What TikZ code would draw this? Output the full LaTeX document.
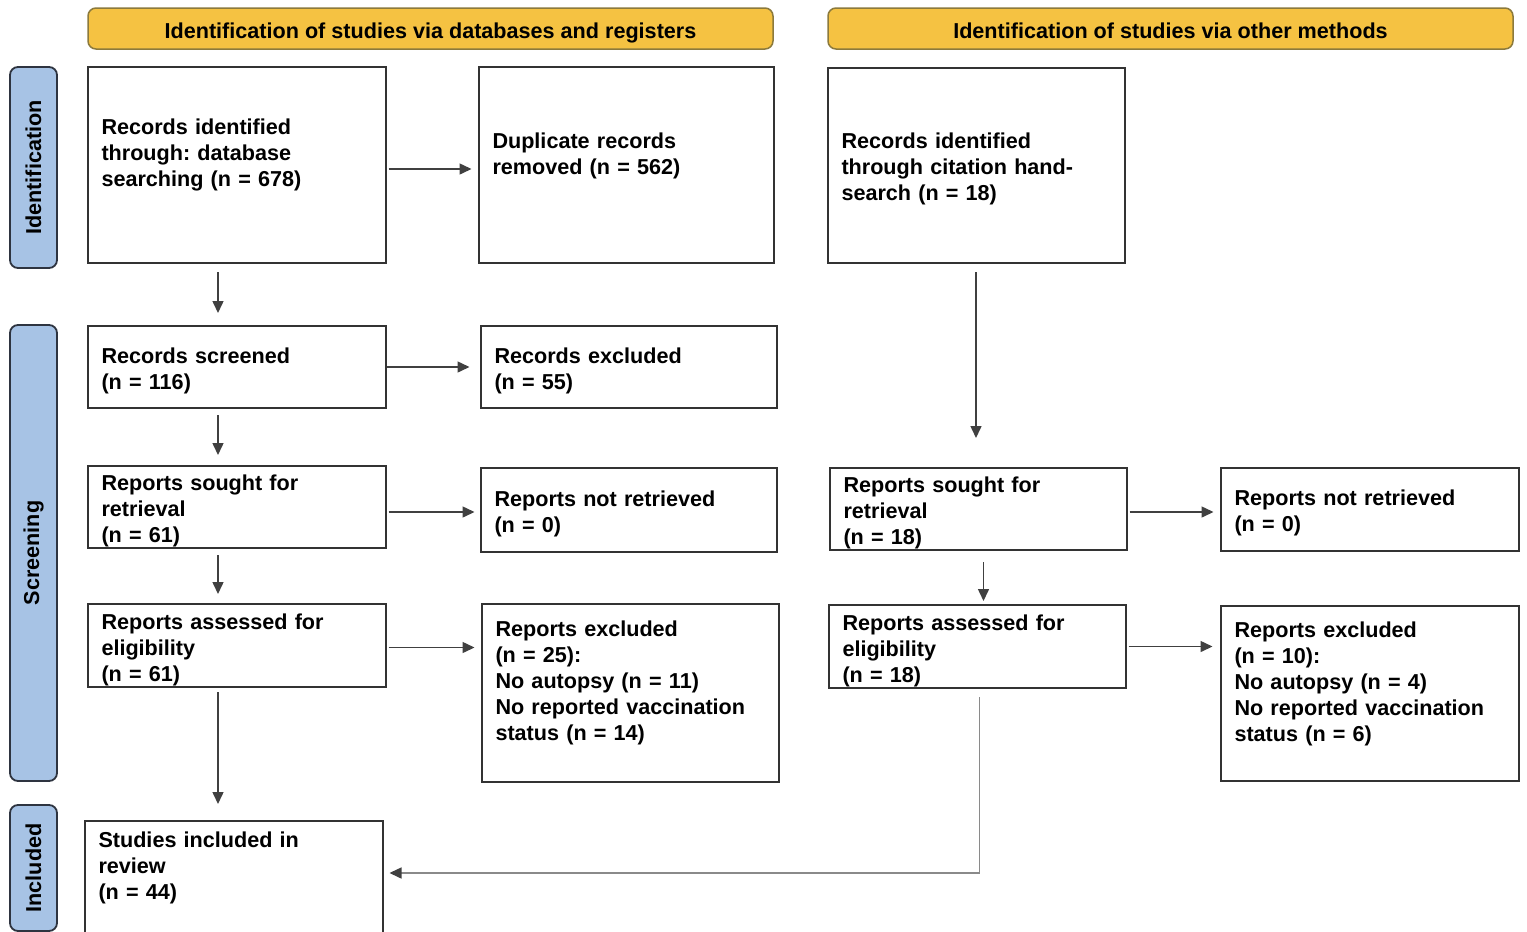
\documentclass[tikz,border=0pt]{standalone}
\usepackage{fontspec}
\setmainfont{Liberation Sans}
\usetikzlibrary{arrows.meta}
\frenchspacing

\definecolor{headfill}{HTML}{F5C242}
\definecolor{headline}{HTML}{8C7A3C}
\definecolor{sidefill}{HTML}{A7C3E5}
\definecolor{sideline}{HTML}{2E3440}
\definecolor{boxline}{HTML}{333333}
\definecolor{linkline}{HTML}{404040}
\definecolor{backline}{HTML}{8A8A8A}

\tikzset{
  head/.style={draw=headline, fill=headfill, line width=0.75pt, rounded corners=4pt,
    minimum width=342.5pt, minimum height=20.5pt, inner sep=0pt,
    text height=10pt, text depth=0.5pt},
  side/.style={draw=sideline, fill=sidefill, line width=0.9pt, rounded corners=4pt,
    rotate=90, minimum height=23.5pt, inner sep=0pt},
  % #1 width, #2 height, #3 first baseline below the top (all in px)
  box/.style n args={3}{draw=boxline, line width=1pt, anchor=north west, align=left,
    inner xsep=7pt, inner ysep=0pt, text width=#1*0.5pt-14pt,
    minimum width=#1*0.5pt, minimum height=#2*0.5pt,
    text height=9pt, text depth=#2*0.5pt+9pt-#3*1pt},
  link/.style={->, draw=linkline, line width=0.75pt, shorten <=1pt, shorten >=3pt},
}

\begin{document}
\begin{tikzpicture}[x=0.5pt,y=-0.5pt,>={Triangle[length=6pt,width=5.5pt]},
    font=\fontsize{10.8}{13}\selectfont\bfseries]
  \useasboundingbox (0,0) rectangle (1527,932);
  \clip (0,0) rectangle (1527,932);

  % headers and phases
  \node[head] (hdb) at (430.5,28.5) {Identification of studies via databases and registers};
  \node[head] (hot) at (1170.5,28.5) {Identification of studies via other methods};
  \node[side, minimum width=100.5pt] (pid) at (33.5,167.5) {Identification};
  \node[side, minimum width=228pt] (psc) at (33.5,553) {Screening};
  \node[side, minimum width=63pt] (pin) at (33.5,868) {Included};

  % databases and registers
  \node[box={298}{196}{67}] (a) at (86.5,66) {Records identified\\through: database\\searching (n = 678)};
  \node[box={295}{196}{81}] (b) at (477.5,66) {Duplicate records\\removed (n = 562)};
  \node[box={298}{82}{37}] (d) at (86.5,325) {Records screened\\(n = 116)};
  \node[box={296}{82}{37}] (e) at (479.5,325) {Records excluded\\(n = 55)};
  \node[box={298}{82}{24}] (f) at (86.5,465) {Reports sought for\\retrieval\\(n = 61)};
  \node[box={296}{84}{38}] (g) at (479.5,467) {Reports not retrieved\\(n = 0)};
  \node[box={298}{83}{25}] (h) at (86.5,603) {Reports assessed for\\eligibility\\(n = 61)};
  \node[box={297}{178}{32}] (i) at (480.5,603) {Reports excluded\\(n = 25):\\No autopsy (n = 11)\\No reported vaccination\\status (n = 14)};
  \node[box={298}{140}{26}] (j) at (83.5,820) {Studies included in\\review\\(n = 44)};

  % other methods
  \node[box={297}{195}{80}] (c) at (826.5,67) {Records identified\\through citation hand-\\search (n = 18)};
  \node[box={297}{82}{24}] (k) at (828.5,467) {Reports sought for\\retrieval\\(n = 18)};
  \node[box={298}{83}{37}] (l) at (1219.5,467) {Reports not retrieved\\(n = 0)};
  \node[box={297}{83}{25}] (m) at (827.5,604) {Reports assessed for\\eligibility\\(n = 18)};
  \node[box={298}{175}{31}] (n) at (1219.5,605) {Reports excluded\\(n = 10):\\No autopsy (n = 4)\\No reported vaccination\\status (n = 6)};

  % side arrows
  \draw[link] ([yshift=-2pt]a.east) -- ([yshift=-2pt]a.east -| b.west);
  \draw[link, shorten <=0pt, shorten >=5pt] (d.east) -- (d.east -| e.west);
  \draw[link, shorten >=2.5pt] ([yshift=-2.5pt]f.east) -- ([yshift=-2.5pt]f.east -| g.west);
  \draw[link] ([yshift=-1pt]h.east) -- ([yshift=-1pt]h.east -| i.west);
  \draw[link] ([yshift=-1.5pt]k.east) -- ([yshift=-1.5pt]k.east -| l.west);
  \draw[link, shorten >=3.5pt] (m.east) -- (m.east -| n.west);

  % down arrows
  \draw[link, shorten <=4pt, shorten >=6pt] ([xshift=65.75pt]a.south west) -- ([xshift=65.75pt]d.north west);
  \draw[link, shorten <=3pt, shorten >=5pt] ([xshift=65.75pt]d.south west) -- ([xshift=65.75pt]f.north west);
  \draw[link, shorten <=3pt, shorten >=4.5pt] ([xshift=65.75pt]f.south west) -- ([xshift=65.75pt]h.north west);
  \draw[link, shorten <=2pt, shorten >=8pt] ([xshift=65.75pt]h.south west) -- ([xshift=65.75pt]h.south west |- j.north);
  \draw[link, shorten <=4pt, shorten >=14.5pt] (c.south) -- (c.south |- k.north);
  \draw[link, shorten <=5.5pt, shorten >=1.5pt] ([xshift=2.75pt]k.south) -- ([xshift=2.75pt]k.south |- m.north);
  \draw[link, draw=backline, -{Triangle[length=6pt,width=5.5pt,color=linkline]}, shorten <=4pt]
    ([xshift=1.25pt]m.south) |- ([yshift=-26.5pt]j.north east);
\end{tikzpicture}
\end{document}
